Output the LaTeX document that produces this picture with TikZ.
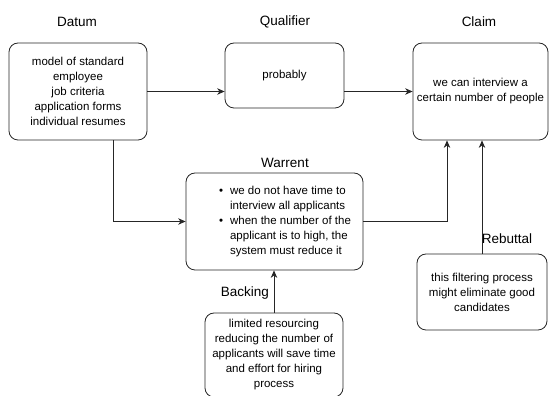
\documentclass[tikz,border=0pt]{standalone}
\usepackage{fontspec}
\setmainfont{Liberation Sans}
\usetikzlibrary{arrows.meta}

\begin{document}
\begin{tikzpicture}[x=1pt, y=1pt,
    box/.style={draw=black!85, line width=0.8pt, rounded corners=9pt, align=center,
        inner sep=0pt, font=\fontsize{11.5}{15}\selectfont},
    title/.style={font=\fontsize{13.5}{16}\selectfont},
    link/.style={draw=black!85, line width=0.8pt, -{Stealth[length=7.5pt, width=6.5pt]}}]
                \useasboundingbox (0,0) rectangle (550,396);
                \begin{scope}
                    % boxes
                    \node[box, minimum width=138pt, minimum height=97pt] (datum) at (78,304.5)
                        {model of standard\\employee\\job criteria\\application forms\\individual resumes};
                    \node[box, minimum width=119pt, minimum height=65pt] (qualifier) at (284.5,320.5) {probably};
                    \node[box, minimum width=135pt, minimum height=97pt] (claim) at (480.5,304.5)
                        {we can interview a\\certain number of people};
                    \node[box, minimum width=177pt, minimum height=97pt] (warrent) at (274.5,174.5)
                        {\hspace*{21pt}\begin{tabular}{@{}l@{\hspace{7pt}}l@{}}
                            \textbullet & we do not have time to\\
                                        & interview all applicants\\
                            \textbullet & when the number of the\\
                                        & applicant is to high, the\\
                                        & system must reduce it
                        \end{tabular}};
                    \node[box, minimum width=130pt, minimum height=76pt] (rebuttal) at (482,104)
                        {this filtering process\\might eliminate good\\candidates};
                    \node[box, minimum width=138pt, minimum height=84pt] (backing) at (274,41)
                        {limited resourcing\\reducing the number of\\applicants will save time\\and effort for hiring\\process};

                    % titles
                    \node[title] (datumtitle) at (77,374) {Datum};
                    \node[title] (qualifiertitle) at (285,374) {Qualifier};
                    \node[title] (claimtitle) at (479,374) {Claim};
                    \node[title] (warrenttitle) at (285,233) {Warrent};
                    \node[title] (rebuttaltitle) at (507,157) {Rebuttal};
                    \node[title] (backingtitle) at (245,103) {Backing};

                    % arrows
                    \draw[link] (datum.east) -- (datum.east -| qualifier.west);
                    \draw[link] (qualifier.east |- claim.west) -- (claim.west);
                    \draw[link] ([xshift=35pt]datum.south) |- (warrent.west);
                    \draw[link] (warrent.east) -| ([xshift=-33.5pt]claim.south);
                    \draw[link] (rebuttal.north) -- (rebuttal.north |- claim.south);
                    \draw[link] (backing.north) -- (backing.north |- warrent.south);
                \end{scope}
            \end{tikzpicture}
\end{document}
